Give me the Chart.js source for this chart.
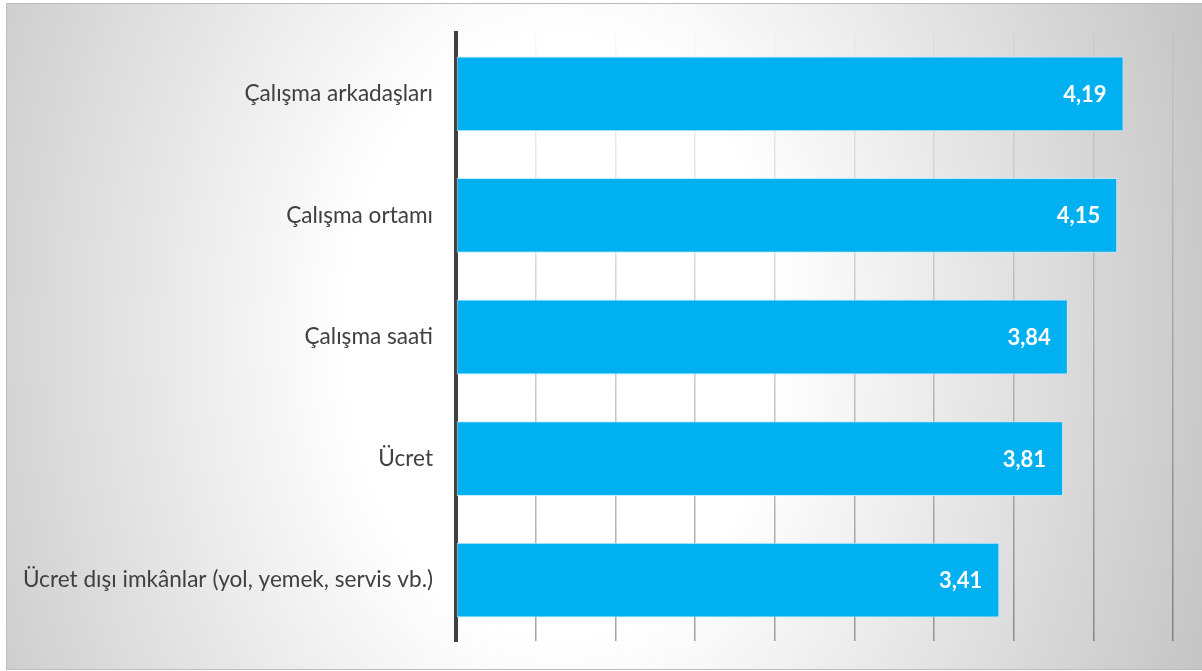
<!DOCTYPE html>
<html>
<head>
<meta charset="utf-8">
<script src="https://cdn.jsdelivr.net/npm/chart.js@4.4.1/dist/chart.umd.min.js"></script>
<style>
  html, body { margin: 0; padding: 0; background: #ffffff; }
  #wrap { position: relative; width: 1202px; height: 671px; overflow: hidden; }
  #frame {
    position: absolute; left: 6px; top: 3px; width: 1200px; height: 665px;
    border: 1px solid #bdbdbd;
    background: radial-gradient(ellipse 720px 1000px at 554px 332px, #ffffff 0%, #ffffff 30%, #c0c0c0 100%);
  }
  #c { position: absolute; left: 0; top: 0; }
</style>
</head>
<body>
<div id="wrap">
  <div id="frame"></div>
  <canvas id="c" width="1202" height="671"></canvas>
</div>
<script>
const categories = [
  "Çalışma arkadaşları",
  "Çalışma ortamı",
  "Çalışma saati",
  "Ücret",
  "Ücret dışı imkânlar (yol, yemek, servis vb.)"
];
const values = [4.19, 4.15, 3.84, 3.81, 3.41];
const axisMin = 0;
const axisMax = 4.5;
const axisStep = 0.5;

const valueLabels = {
  id: 'valueLabels',
  afterDatasetsDraw(chart) {
    const ctx = chart.ctx;
    const meta = chart.getDatasetMeta(0);
    ctx.save();
    ctx.font = 'bold 22px Lato';
    ctx.fillStyle = '#ffffff';
    ctx.textAlign = 'right';
    ctx.textBaseline = 'middle';
    meta.data.forEach((bar, i) => {
      const txt = values[i].toFixed(2).replace('.', ',');
      ctx.fillText(txt, bar.x - 17, bar.y + 1);
    });
    ctx.restore();
  }
};

function gridColor(context) {
  const chart = context.chart;
  const area = chart.chartArea;
  if (!area) return 'rgba(0,0,0,0.15)';
  const g = chart.ctx.createLinearGradient(0, area.top, 0, area.bottom);
  g.addColorStop(0, 'rgba(0,0,0,0.02)');
  g.addColorStop(1, 'rgba(0,0,0,0.36)');
  return g;
}

new Chart(document.getElementById('c'), {
  type: 'bar',
  data: {
    labels: categories,
    datasets: [{
      data: values,
      backgroundColor: '#00B0F0',
      borderColor: 'rgba(190,235,252,0.9)',
      borderWidth: 1,
      borderSkipped: false,
      categoryPercentage: 0.615,
      barPercentage: 1.0
    }]
  },
  options: {
    indexAxis: 'y',
    responsive: false,
    animation: false,
    devicePixelRatio: 1,
    layout: { padding: { left: 0, top: 33, right: 29, bottom: 30 } },
    plugins: {
      legend: { display: false },
      tooltip: { enabled: false }
    },
    scales: {
      x: {
        min: axisMin,
        max: axisMax,
        ticks: { display: false, stepSize: axisStep },
        grid: { display: true, drawTicks: false, color: gridColor, lineWidth: 1.5 },
        border: { display: false },
        afterFit(scale) {
          scale.height = 0;
          scale.paddingLeft = 0; scale.paddingRight = 0;
          scale.paddingTop = 0; scale.paddingBottom = 0;
        }
      },
      y: {
        ticks: {
          padding: 23,
          color: '#404040',
          font: { family: 'Lato', size: 22.6 }
        },
        grid: { display: false, drawTicks: false },
        border: { display: true, color: '#404040', width: 4 },
        afterFit(scale) {
          scale.width = 456;
          scale.paddingTop = 0; scale.paddingBottom = 0;
          scale.paddingLeft = 0; scale.paddingRight = 0;
        }
      }
    }
  },
  plugins: [valueLabels]
});
</script>
</body>
</html>
